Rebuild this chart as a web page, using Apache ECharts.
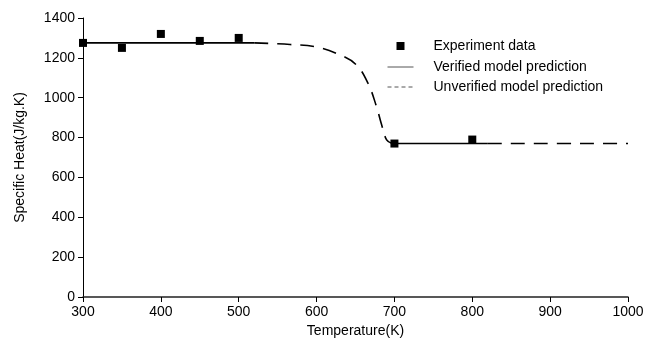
<!DOCTYPE html>
<html>
<head>
<meta charset="utf-8">
<script src="https://cdn.jsdelivr.net/npm/echarts@6/dist/echarts.min.js"></script>
<style>
  html, body { margin: 0; padding: 0; background: #fff; }
  #chart { width: 662px; height: 348px; }
</style>
</head>
<body>
<div id="chart"></div>
<script>
// experiment points
var expTemp = [300, 350, 400, 450, 500, 700, 800];
var expHeat = [1275, 1250, 1320, 1285, 1300, 770, 790];

// verified model (two flat pieces)
var verTemp = [300, 520, null, 700, 820];
var verHeat = [1275, 1275, null, 770, 770];

// unverified model (transition curve + tail)
var unvTemp = [520, 566, 600, 630, 651, 666, 677, 683, 690, 697, null, 820, 1000];
var unvHeat = [1275, 1267, 1254, 1215, 1165, 1073, 955, 872, 788, 770, null, 770, 770];

function pairs(xs, ys){
  var out = [];
  for(var i = 0; i < xs.length; i++){
    if(xs[i] === null){
      out.push('-');
    }else{
      out.push([xs[i], ys[i]]);
    }
  }
  return out;
}

function plain(v){
  return String(v);
}

var chart = echarts.init(document.getElementById('chart'));
var font = 'Liberation Sans, Arial, sans-serif';
// small square, padded with move-to points so it sits in the middle of the icon box
var squareIcon = 'path://M0,0 M8,8 M2,2 L6,2 L6,6 L2,6 Z';

var option = {
  animation: false,
  textStyle: { fontFamily: font },
  grid: { left: 83, right: 34, top: 18, bottom: 51 },
  legend: {
    orient: 'vertical',
    left: 382,
    top: 33,
    itemGap: 6,
    itemWidth: 26,
    itemHeight: 16,
    textStyle: { fontFamily: font, fontSize: 14, color: '#000', padding: [0, 0, 0, 15] },
    data: [
      { name: 'Experiment data', icon: squareIcon, itemStyle: { color: '#000' } },
      { name: 'Verified model prediction', itemStyle: { opacity: 0 },
        lineStyle: { color: '#555', width: 1, type: 'solid' } },
      { name: 'Unverified model prediction', itemStyle: { opacity: 0 },
        lineStyle: { color: '#555', width: 1, type: [4, 3] } }
    ]
  },
  xAxis: {
    type: 'value',
    min: 300,
    max: 1000,
    interval: 100,
    name: 'Temperature(K)',
    nameLocation: 'middle',
    nameGap: 24,
    nameTextStyle: { fontSize: 14, color: '#000' },
    axisLine: { lineStyle: { color: '#222', width: 1.5 } },
    axisTick: { length: 5, lineStyle: { color: '#000' } },
    axisLabel: { fontSize: 14, color: '#000', margin: 8, formatter: plain },
    splitLine: { show: false }
  },
  yAxis: {
    type: 'value',
    min: 0,
    max: 1400,
    interval: 200,
    name: 'Specific Heat(J/kg.K)',
    nameLocation: 'middle',
    nameGap: 56,
    nameTextStyle: { fontSize: 14, color: '#000' },
    axisLine: { show: true, lineStyle: { color: '#000', width: 1 } },
    axisTick: { show: true, length: 5, lineStyle: { color: '#000' } },
    axisLabel: { fontSize: 14, color: '#000', margin: 8, formatter: plain },
    splitLine: { show: false }
  },
  series: [
    {
      name: 'Verified model prediction',
      type: 'line',
      symbol: 'none',
      connectNulls: false,
      lineStyle: { color: '#000', width: 1.6 },
      itemStyle: { color: '#000' },
      data: pairs(verTemp, verHeat)
    },
    {
      name: 'Unverified model prediction',
      type: 'line',
      symbol: 'none',
      smooth: 0.4,
      connectNulls: false,
      lineStyle: { color: '#000', width: 1.6, type: [14, 9] },
      itemStyle: { color: '#000' },
      data: pairs(unvTemp, unvHeat)
    },
    {
      name: 'Experiment data',
      type: 'scatter',
      symbol: 'rect',
      symbolSize: 8,
      itemStyle: { color: '#000', opacity: 1 },
      data: pairs(expTemp, expHeat),
      z: 5
    }
  ]
};

chart.setOption(option);
</script>
</body>
</html>
